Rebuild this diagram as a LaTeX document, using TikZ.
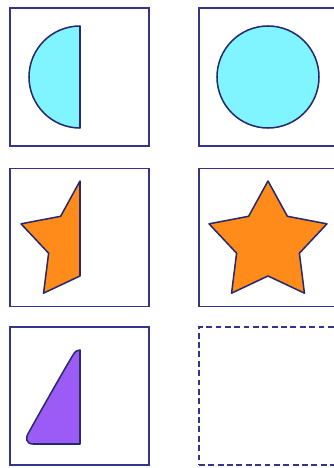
\documentclass[tikz,border=0pt]{standalone}
\usetikzlibrary{calc}
\definecolor{frameblue}{RGB}{52,52,140}
\definecolor{edgeblue}{RGB}{40,40,110}
\definecolor{halfcyan}{RGB}{128,244,255}
\definecolor{starorange}{RGB}{255,140,26}
\definecolor{wedgepurple}{RGB}{155,92,246}
\begin{document}
\begin{tikzpicture}[x=0.03cm,y=0.03cm,
  panel/.style={draw=frameblue,line width=1.1pt,minimum width=4.17cm,minimum height=4.14cm,inner sep=0pt},
  shapeline/.style={draw=edgeblue,line width=1.3pt,line join=round}]
\useasboundingbox (0,0) rectangle (334,468);
\node[panel] (halfcircbox) at (79.5,391) {};
\node[panel] (circbox) at (268.5,391) {};
\node[panel] (halfstarbox) at (79.5,230.5) {};
\node[panel] (starbox) at (268.5,230.5) {};
\node[panel] (wedgebox) at (79.5,72) {};
\node[panel,dashed,dash pattern=on 5pt off 3pt] (emptybox) at (268.5,72) {};
\draw[shapeline,fill=halfcyan] (80,442) arc[start angle=90,end angle=270,radius=1.53cm] -- cycle;
\draw[shapeline,fill=halfcyan] (268,391) circle[radius=1.53cm];
\draw[shapeline,fill=starorange] (80,287)
  \foreach \k [evaluate=\k as \rr using {62-29*mod(\k,2)}] in {1,...,5} {
    -- ($(80,225)+(90+36*\k:\rr)$) } -- cycle;
\draw[shapeline,fill=starorange] (268,287)
  \foreach \k [evaluate=\k as \rr using {62-29*mod(\k,2)}] in {1,...,9} {
    -- ($(268,225)+(90+36*\k:\rr)$) } -- cycle;
\draw[shapeline,fill=wedgepurple]
  (80,24) -- (33,24) .. controls (26,24) and (25,30) .. (29,36)
  .. controls (48,70) and (64,98) .. (73,113)
  .. controls (75,117) and (78,118) .. (80,118) -- cycle;
\end{tikzpicture}
\end{document}
